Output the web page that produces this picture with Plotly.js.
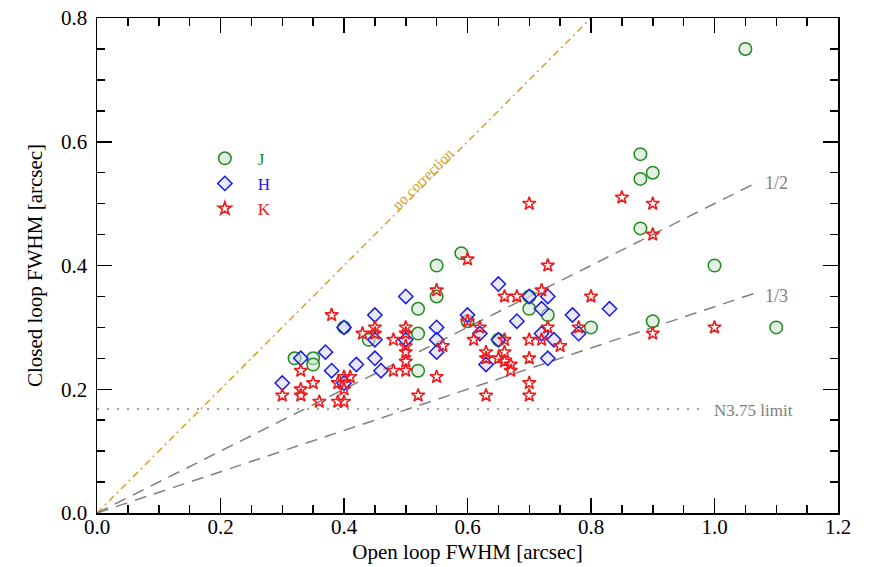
<!DOCTYPE html>
<html>
<head>
<meta charset="utf-8">
<script src="https://cdn.plot.ly/plotly-3.0.1.min.js"></script>
<style>html,body{margin:0;padding:0;background:#fff;}#chart{width:872px;height:567px;}</style>
</head>
<body>
<div id="chart"></div>
<script>
// J band
const jOpen = [0.32,0.35,0.35,0.40,0.44,0.52,0.52,0.52,0.55,0.55,0.59,0.60,0.65,0.70,0.70,0.73,0.80,0.88,0.88,0.90,0.88,0.90,1.00,1.05,1.10];
const jClosed = [0.25,0.25,0.24,0.30,0.28,0.33,0.29,0.23,0.35,0.40,0.42,0.31,0.28,0.35,0.33,0.32,0.30,0.58,0.54,0.55,0.46,0.31,0.40,0.75,0.30];
// H band
const hOpen = [0.30,0.33,0.37,0.38,0.40,0.40,0.42,0.45,0.45,0.45,0.46,0.50,0.50,0.55,0.55,0.55,0.60,0.62,0.63,0.65,0.65,0.68,0.70,0.72,0.72,0.73,0.74,0.73,0.77,0.78,0.83];
const hClosed = [0.21,0.25,0.26,0.23,0.30,0.21,0.24,0.32,0.28,0.25,0.23,0.35,0.28,0.30,0.28,0.26,0.32,0.29,0.24,0.37,0.28,0.31,0.35,0.33,0.29,0.35,0.28,0.25,0.32,0.29,0.33];
// K band
const kOpen = [0.30,0.33,0.33,0.33,0.35,0.36,0.38,0.39,0.40,0.41,0.40,0.39,0.40,0.43,0.45,0.45,0.48,0.48,0.50,0.50,0.50,0.50,0.50,0.50,0.52,0.55,0.55,0.56,0.60,0.60,0.61,0.62,0.63,0.63,0.63,0.65,0.66,0.66,0.66,0.66,0.67,0.67,0.68,0.70,0.70,0.70,0.70,0.70,0.72,0.72,0.73,0.73,0.75,0.78,0.80,0.85,0.90,0.90,0.90,1.00];
const kClosed = [0.19,0.23,0.20,0.19,0.21,0.18,0.32,0.21,0.22,0.22,0.20,0.18,0.18,0.29,0.30,0.29,0.28,0.23,0.30,0.29,0.27,0.26,0.245,0.23,0.19,0.36,0.22,0.27,0.41,0.31,0.28,0.30,0.26,0.25,0.19,0.25,0.35,0.28,0.26,0.245,0.24,0.23,0.35,0.50,0.28,0.25,0.21,0.19,0.36,0.28,0.40,0.30,0.27,0.30,0.35,0.51,0.50,0.45,0.29,0.30];
// reference lines
const noCorrX = [0, 0.8], noCorrY = [0, 0.8];
const halfX = [0, 1.07], halfY = [0, 0.535];
const thirdX = [0, 1.07], thirdY = [0, 0.3567];
const limitX = [0, 0.975], limitY = [0.168, 0.168];

const serif = "Liberation Serif";
const gJ = "#1f8a1f", bH = "#1a1ae6", rK = "#ee1c1c", gold = "#d9a21b", gray = "#808080";

const traces = [
  {x: noCorrX, y: noCorrY, mode: 'lines', line: {color: gold, width: 1.5, dash: '7px,4px,2px,4px'}, showlegend: false, hoverinfo: 'skip'},
  {x: halfX, y: halfY, mode: 'lines', line: {color: gray, width: 1.5, dash: '12px,8px'}, showlegend: false, hoverinfo: 'skip'},
  {x: thirdX, y: thirdY, mode: 'lines', line: {color: gray, width: 1.5, dash: '12px,8px'}, showlegend: false, hoverinfo: 'skip'},
  {x: limitX, y: limitY, mode: 'lines', line: {color: gray, width: 1.5, dash: '2px,8px'}, showlegend: false, hoverinfo: 'skip'},
  {x: jOpen, y: jClosed, mode: 'markers', name: '<span style="color:' + gJ + '">J</span>',
   marker: {symbol: 'circle', size: 12.5, color: 'rgba(205,228,205,0.55)', line: {color: gJ, width: 1.5}}},
  {x: hOpen, y: hClosed, mode: 'markers', name: '<span style="color:' + bH + '">H</span>',
   marker: {symbol: 'diamond', size: 11, color: 'rgba(215,215,245,0.55)', line: {color: bH, width: 1.5}}},
  {x: kOpen, y: kClosed, mode: 'markers', name: '<span style="color:' + rK + '">K</span>',
   marker: {symbol: 'star-open', size: 10, color: rK, line: {color: rK, width: 1.6}}}
];

const axisCommon = {
  showgrid: false, zeroline: false, showline: true, linecolor: '#000', linewidth: 1.5,
  mirror: 'allticks', ticks: 'inside', ticklen: 15, tickwidth: 1.5, tickcolor: '#000',
  tickfont: {family: serif, size: 21, color: '#000'}, tickformat: '.1f', dtick: 0.2, tick0: 0,
  minor: {dtick: 0.05, ticks: 'inside', ticklen: 8, tickwidth: 1.5, tickcolor: '#000'}
};

const layout = {
  width: 872, height: 567,
  margin: {l: 97, r: 34, t: 18, b: 54},
  paper_bgcolor: '#fff', plot_bgcolor: '#fff',
  font: {family: serif},
  xaxis: Object.assign({}, axisCommon, {range: [0, 1.2], ticklabelstandoff: -6,
    title: {text: 'Open loop FWHM [arcsec]', font: {family: serif, size: 21, color: '#000'}, standoff: 6}}),
  yaxis: Object.assign({}, axisCommon, {range: [0, 0.8], ticklabelstandoff: 4,
    title: {text: 'Closed loop FWHM [arcsec]', font: {family: serif, size: 21, color: '#000'}, standoff: 12}}),
  showlegend: true,
  legend: {x: 0.128, y: 0.752, xanchor: 'left', yanchor: 'top', bgcolor: 'rgba(0,0,0,0)',
    font: {family: serif, size: 17}, itemwidth: 56, tracegroupgap: 0},
  annotations: [
    {x: 0.528, y: 0.54, xref: 'x', yref: 'y', text: 'no correction', showarrow: false, textangle: -45,
     font: {family: serif, size: 15, color: gold}},
    {x: 1.10, y: 0.533, xref: 'x', yref: 'y', text: '1/2', showarrow: false,
     font: {family: serif, size: 18, color: gray}},
    {x: 1.10, y: 0.350, xref: 'x', yref: 'y', text: '1/3', showarrow: false,
     font: {family: serif, size: 18, color: gray}},
    {x: 1.063, y: 0.165, xref: 'x', yref: 'y', text: 'N3.75 limit', showarrow: false,
     font: {family: serif, size: 17, color: gray}}
  ]
};

Plotly.newPlot('chart', traces, layout, {displayModeBar: false, staticPlot: true});
</script>
</body>
</html>
